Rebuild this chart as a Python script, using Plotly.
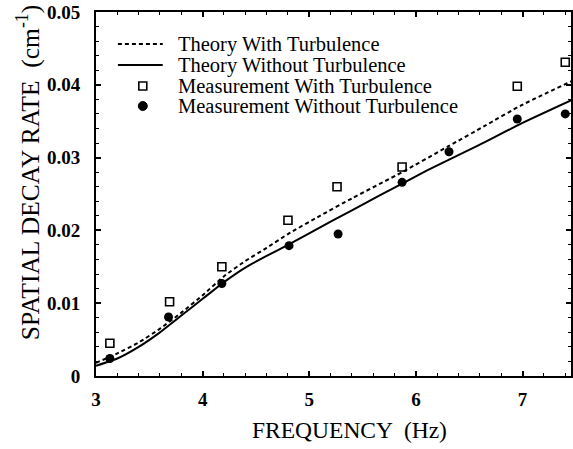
import plotly.graph_objects as go

# Measured points (frequency in Hz, decay rate in cm^-1)
meas_turb_f = [3.13, 3.69, 4.18, 4.80, 5.26, 5.87, 6.95, 7.40]
meas_turb_k = [0.0045, 0.0102, 0.0150, 0.0214, 0.0260, 0.0287, 0.0398, 0.0431]

meas_calm_f = [3.13, 3.68, 4.18, 4.81, 5.27, 5.87, 6.31, 6.95, 7.40]
meas_calm_k = [0.0024, 0.0081, 0.0127, 0.0179, 0.0195, 0.0266, 0.0308, 0.0353, 0.0360]

# Theoretical curves
theory_turb_f = [3.0, 3.2, 3.4, 3.6, 3.8, 4.0, 4.2, 4.4, 4.6, 4.8, 5.1, 5.4, 5.87, 6.31, 6.65, 6.99, 7.46]
theory_turb_k = [0.0018, 0.0031, 0.0046, 0.0065, 0.0087, 0.0111, 0.0137, 0.0158, 0.0176, 0.0195,
                 0.0220, 0.0244, 0.0280, 0.0316, 0.0344, 0.0372, 0.0405]

theory_calm_f = [3.0, 3.2, 3.4, 3.6, 3.8, 4.0, 4.2, 4.4, 4.6, 4.8, 5.2, 5.66, 6.1, 6.59, 6.99, 7.46]
theory_calm_k = [0.0014, 0.0024, 0.0040, 0.0060, 0.0083, 0.0106, 0.0129, 0.0149, 0.0165, 0.0180,
                 0.0212, 0.0248, 0.0282, 0.0317, 0.0347, 0.0379]

legend_labels = [
    "Theory With Turbulence",
    "Theory Without Turbulence",
    "Measurement With Turbulence",
    "Measurement Without Turbulence",
]

x_ticks = [3, 4, 5, 6, 7]
y_ticks = [0, 0.01, 0.02, 0.03, 0.04, 0.05]
y_tick_text = ["0", "0.01", "0.02", "0.03", "0.04", "0.05"]

FONT = "Liberation Serif"
W, H = 573, 449
ML, MR, MT, MB = 96, 0, 12, 73
PW, PH = W - ML - MR, H - MT - MB


def px(xpix):
    """Pixel column -> paper x."""
    return (xpix - ML) / PW


def py(ypix):
    """Pixel row -> paper y."""
    return (H - MB - ypix) / PH


fig = go.Figure()
fig.add_trace(go.Scatter(
    x=theory_turb_f, y=theory_turb_k, mode="lines", name=legend_labels[0],
    line=dict(color="black", width=2, dash="4px,3px", shape="spline", smoothing=0.5),
))
fig.add_trace(go.Scatter(
    x=theory_calm_f, y=theory_calm_k, mode="lines", name=legend_labels[1],
    line=dict(color="black", width=2, shape="spline", smoothing=0.5),
))
fig.add_trace(go.Scatter(
    x=meas_turb_f, y=meas_turb_k, mode="markers", name=legend_labels[2],
    marker=dict(symbol="square-open", size=8, color="black", line=dict(width=1.6)),
))
fig.add_trace(go.Scatter(
    x=meas_calm_f, y=meas_calm_k, mode="markers", name=legend_labels[3],
    marker=dict(symbol="circle", size=9, color="black"),
))

axis_common = dict(
    showline=True, linecolor="black", linewidth=2, mirror="ticks",
    ticks="inside", ticklen=5, tickwidth=1.5, tickcolor="black",
    showgrid=False, zeroline=False,
    tickfont=dict(family=FONT, size=19, color="black", weight="bold"),
)

fig.update_xaxes(
    range=[3, 3 + PW / 107.1], tickvals=x_ticks,
    minor=dict(dtick=0.2, ticks="inside", ticklen=3, tickcolor="black", tickwidth=1.2),
    ticklabelstandoff=5,
    **axis_common,
)
fig.update_yaxes(
    range=[0, 0.05], tickvals=y_ticks, ticktext=y_tick_text,
    minor=dict(dtick=0.002, ticks="inside", ticklen=3, tickcolor="black", tickwidth=1.2),
    ticklabelstandoff=10,
    **axis_common,
)

# Hand-placed legend in the upper-left corner of the plot area
rows = [44, 65, 86, 106]
shapes = [
    dict(type="line", xref="paper", yref="paper",
         x0=px(118), x1=px(163), y0=py(rows[0]), y1=py(rows[0]),
         line=dict(color="black", width=2, dash="4px,3px")),
    dict(type="line", xref="paper", yref="paper",
         x0=px(118), x1=px(163), y0=py(rows[1]), y1=py(rows[1]),
         line=dict(color="black", width=2)),
    dict(type="rect", xref="paper", yref="paper",
         x0=px(139), x1=px(147), y0=py(rows[2] - 4), y1=py(rows[2] + 4),
         line=dict(color="black", width=1.6), fillcolor="white"),
    dict(type="circle", xref="paper", yref="paper",
         x0=px(138.5), x1=px(147.5), y0=py(rows[3] - 4.5), y1=py(rows[3] + 4.5),
         line=dict(color="black", width=1), fillcolor="black"),
]
annotations = [
    dict(text=label, xref="paper", yref="paper", x=px(176), y=py(row),
         xanchor="left", yanchor="middle", showarrow=False,
         font=dict(family=FONT, size=20.5, color="black"))
    for label, row in zip(legend_labels, rows)
]

# Axis titles
annotations.append(dict(
    text="FREQUENCY  (Hz)", xref="paper", yref="paper", x=px(351), y=py(430),
    xanchor="center", yanchor="middle", showarrow=False,
    font=dict(family=FONT, size=23.5, color="black"),
))
annotations.append(dict(
    text="SPATIAL DECAY RATE  (cm<sup>-1</sup>)", xref="paper", yref="paper",
    x=px(28), y=py(172), xanchor="center", yanchor="middle", showarrow=False,
    textangle=-90, font=dict(family=FONT, size=25.5, color="black"),
))

fig.update_layout(
    width=W, height=H,
    margin=dict(l=ML, r=MR, t=MT, b=MB),
    paper_bgcolor="white", plot_bgcolor="white",
    showlegend=False,
    shapes=shapes,
    annotations=annotations,
)

fig.write_html("out.html")
